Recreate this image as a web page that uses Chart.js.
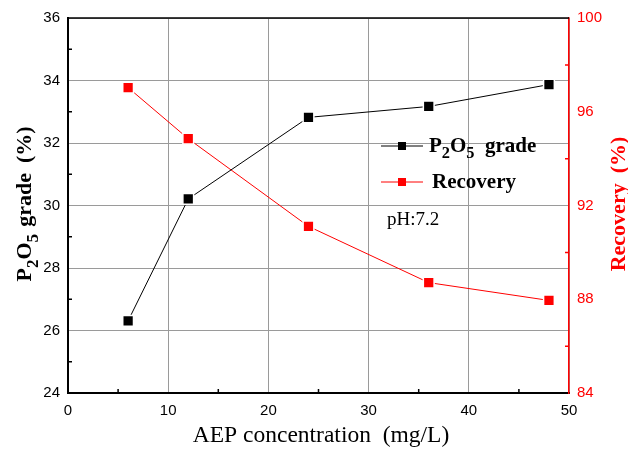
<!DOCTYPE html>
<html>
<head>
<meta charset="utf-8">
<script src="https://cdn.jsdelivr.net/npm/chart.js@4.4.1/dist/chart.umd.min.js"></script>
<style>
html, body { margin: 0; padding: 0; background: #fff; }
</style>
</head>
<body>
<canvas id="myChart" width="628" height="452"></canvas>
<script>
// data
var concentration = [6, 12, 24, 36, 48];
var gradeValues = [26.31, 30.21, 32.82, 33.17, 33.87];
var recoveryValues = [97.03, 94.85, 91.11, 88.71, 87.95];
var xMinorTicks = [5, 15, 25, 35, 45];
var gradeMinorTicks = [25, 27, 29, 31, 33, 35];
var recoveryMinorTicks = [86, 90, 94, 98];

var SERIF = '"Liberation Serif", "Times New Roman", serif';
var SANS = '"Liberation Sans", Arial, sans-serif';

function toPoints(xs, ys) {
    return xs.map(function (x, i) { return { x: x, y: ys[i] }; });
}

// draw text made of parts, some of them subscript, some with an extra gap before
function drawRich(ctx, parts, x, y, size, bold, color, align) {
    var total = 0;
    parts.forEach(function (p) {
        ctx.font = (bold ? 'bold ' : '') + (p.sub ? size * 0.78 : size) + 'px ' + SERIF;
        p.w = ctx.measureText(p.t).width;
        total += p.w + (p.gap || 0);
    });
    var cx = align === 'center' ? x - total / 2 : x;
    ctx.fillStyle = color;
    ctx.textAlign = 'left';
    ctx.textBaseline = 'alphabetic';
    parts.forEach(function (p) {
        cx += p.gap || 0;
        ctx.font = (bold ? 'bold ' : '') + (p.sub ? size * 0.78 : size) + 'px ' + SERIF;
        ctx.fillText(p.t, cx, y + (p.sub ? size * 0.3 : 0));
        cx += p.w;
    });
}

var extras = {
    id: 'extras',
    afterDraw: function (chart) {
        var ctx = chart.ctx;
        var a = chart.chartArea;
        var sx = chart.scales.x, sy = chart.scales.y, sr = chart.scales.y1;
        ctx.save();

        // top frame line
        ctx.strokeStyle = '#000';
        ctx.lineWidth = 1.5;
        ctx.beginPath();
        ctx.moveTo(a.left, a.top);
        ctx.lineTo(a.right, a.top);
        ctx.stroke();

        // inward minor ticks
        ctx.beginPath();
        xMinorTicks.forEach(function (v) {
            var px = sx.getPixelForValue(v);
            ctx.moveTo(px, a.bottom);
            ctx.lineTo(px, a.bottom - 4);
        });
        gradeMinorTicks.forEach(function (v) {
            var py = sy.getPixelForValue(v);
            ctx.moveTo(a.left, py);
            ctx.lineTo(a.left + 4, py);
        });
        ctx.stroke();
        ctx.strokeStyle = '#ff0000';
        ctx.beginPath();
        recoveryMinorTicks.forEach(function (v) {
            var py = sr.getPixelForValue(v);
            ctx.moveTo(a.right, py);
            ctx.lineTo(a.right - 4, py);
        });
        ctx.stroke();

        // axis titles
        ctx.fillStyle = '#000';
        ctx.font = '23.5px ' + SERIF;
        ctx.textAlign = 'center';
        ctx.textBaseline = 'alphabetic';
        ctx.fillText('AEP concentration  (mg/L)', 321, 442);

        ctx.save();
        ctx.translate(31, 204);
        ctx.rotate(-Math.PI / 2);
        drawRich(ctx, [{ t: 'P' }, { t: '2', sub: true }, { t: 'O' }, { t: '5', sub: true },
            { t: 'grade', gap: 7 }, { t: '(%)', gap: 10 }], 0, 0, 22, true, '#000', 'center');
        ctx.restore();

        ctx.save();
        ctx.translate(625, 204);
        ctx.rotate(-Math.PI / 2);
        drawRich(ctx, [{ t: 'Recovery' }, { t: '(%)', gap: 10 }], 0, 0, 22, true, '#ff0000', 'center');
        ctx.restore();

        // legend
        var rows = [
            { y: 146, ds: chart.data.datasets[0], parts: [{ t: 'P' }, { t: '2', sub: true }, { t: 'O' }, { t: '5', sub: true }, { t: '  grade' }], tx: 429 },
            { y: 182, ds: chart.data.datasets[1], parts: [{ t: 'Recovery' }], tx: 432 }
        ];
        rows.forEach(function (r) {
            ctx.strokeStyle = r.ds.borderColor;
            ctx.lineWidth = 1;
            ctx.beginPath();
            ctx.moveTo(381, r.y);
            ctx.lineTo(423, r.y);
            ctx.stroke();
            ctx.fillStyle = r.ds.backgroundColor;
            ctx.fillRect(398, r.y - 4, 8, 8);
            drawRich(ctx, r.parts, r.tx, r.y + 6, 21, true, '#000', 'left');
        });

        ctx.fillStyle = '#000';
        ctx.font = '19px ' + SERIF;
        ctx.textAlign = 'left';
        ctx.fillText('pH:7.2', 387, 225);

        ctx.restore();
    }
};

var ctx = document.getElementById('myChart').getContext('2d');
var myChart = new Chart(ctx, {
    type: 'line',
    data: {
        datasets: [{
            label: 'P2O5 grade',
            data: toPoints(concentration, gradeValues),
            yAxisID: 'y',
            borderColor: '#000000',
            backgroundColor: '#000000',
            borderWidth: 1,
            pointStyle: 'rect',
            pointRadius: 7.6,
            pointBorderColor: '#ffffff',
            pointBorderWidth: 1.5,
            pointBackgroundColor: '#000000'
        }, {
            label: 'Recovery',
            data: toPoints(concentration, recoveryValues),
            yAxisID: 'y1',
            borderColor: '#ff0000',
            backgroundColor: '#ff0000',
            borderWidth: 1,
            pointStyle: 'rect',
            pointRadius: 7.6,
            pointBorderColor: '#ffffff',
            pointBorderWidth: 1.5,
            pointBackgroundColor: '#ff0000'
        }]
    },
    options: {
        responsive: false,
        animation: false,
        layout: { padding: { top: 18, left: 0, right: 0, bottom: 0 } },
        plugins: {
            legend: { display: false },
            tooltip: { enabled: false }
        },
        scales: {
            x: {
                type: 'linear',
                min: 0,
                max: 50,
                ticks: { stepSize: 10, color: '#000', padding: 9, font: { size: 15, family: SANS } },
                grid: { color: '#9a9a9a', lineWidth: 1, drawTicks: false },
                border: { color: '#000', width: 2 },
                afterFit: function (s) { s.height = 59; }
            },
            y: {
                position: 'left',
                min: 24,
                max: 36,
                ticks: { stepSize: 2, color: '#000', padding: 8, font: { size: 15, family: SANS } },
                grid: { color: '#9a9a9a', lineWidth: 1, drawTicks: false },
                border: { color: '#000', width: 2 },
                afterFit: function (s) { s.width = 68; }
            },
            y1: {
                position: 'right',
                min: 84,
                max: 100,
                ticks: { stepSize: 4, color: '#ff0000', padding: 8, font: { size: 15, family: SANS } },
                grid: { display: false, drawTicks: false },
                border: { color: '#ff0000', width: 1.5 },
                afterFit: function (s) { s.width = 59; }
            }
        }
    },
    plugins: [extras]
});
</script>
</body>
</html>
